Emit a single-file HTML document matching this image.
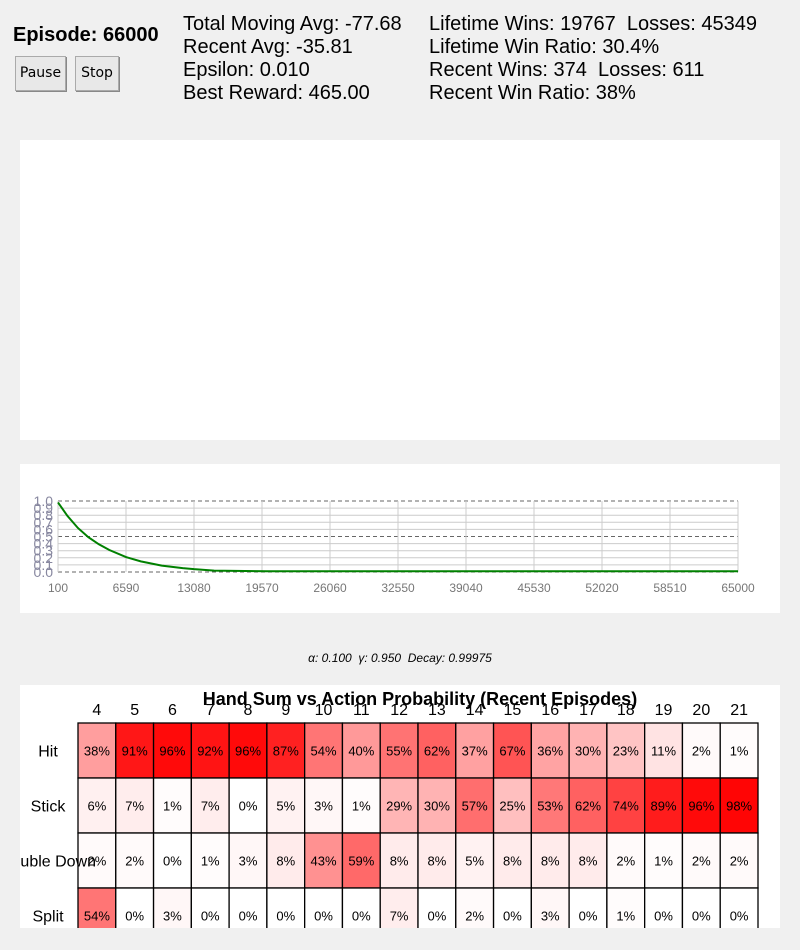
<!DOCTYPE html>
<html><head><meta charset="utf-8"><style>
body{margin:0;width:800px;height:950px;background:#f0f0f0;font-family:"Liberation Sans",sans-serif;position:relative;overflow:hidden}
svg text{font-family:"Liberation Sans",sans-serif}
.abs{position:absolute}
.st{position:absolute;font-size:20px;line-height:23px;color:#000;white-space:nowrap}
.btn{position:absolute;top:56px;height:33px;border:1px solid #aaa;background:#e8e8e8;box-shadow:1px 1px 0 #888;font-size:14px;line-height:33px;text-align:center;font-family:"DejaVu Sans",sans-serif}
</style></head><body>
<div class="abs" style="left:13px;top:24px;font-size:20px;font-weight:bold">Episode: 66000</div>
<div class="btn" style="left:15px;width:49px">Pause</div>
<div class="btn" style="left:75px;width:42px">Stop</div>
<div class="st" style="left:183px;top:13px">Total Moving Avg: -77.68<br>Recent Avg: -35.81<br>Epsilon: 0.010<br>Best Reward: 465.00</div>
<div class="st" style="left:429px;top:13px">Lifetime Wins: 19767&nbsp; Losses: 45349<br>Lifetime Win Ratio: 30.4%<br>Recent Wins: 374&nbsp; Losses: 611<br>Recent Win Ratio: 38%</div>
<div class="abs" style="left:20px;top:140px;width:760px;height:300px;background:#fff"></div>
<div class="abs" style="left:20px;top:464px;width:760px;height:149px;background:#fff"></div>
<svg class="abs" id="eps" style="left:0;top:0" width="800" height="950"></svg>
<div class="abs" style="left:0;width:800px;top:651px;text-align:center;font-size:12px;font-style:italic">α: 0.100&nbsp; γ: 0.950&nbsp; Decay: 0.99975</div>
<div class="abs" style="left:20px;top:685px;width:760px;height:243px;background:#fff;overflow:hidden">
<svg id="hm" width="760" height="243"></svg></div>
<script>
const epTicks=[100,6590,13080,19570,26060,32550,39040,45530,52020,58510,65000];
const epsX=[100,1000,2000,3000,4000,5000,6590,8000,10000,12000,13080,15000,20000,30000,40000,50000,65000];
const epsY=[0.98,0.79,0.62,0.49,0.39,0.31,0.21,0.15,0.09,0.055,0.04,0.02,0.01,0.01,0.01,0.01,0.01];
const NS='http://www.w3.org/2000/svg';
function mk(p,t,a){const e=document.createElementNS(NS,t);for(const k in a)e.setAttribute(k,a[k]);p.appendChild(e);return e;}
const s=document.getElementById('eps');
const x0=58,x1=738,yT=501,yB=572;
const xs=v=>x0+(v-100)/(65000-100)*(x1-x0);
const ys=v=>yB-v*(yB-yT);
for(let i=0;i<=10;i++){const v=i/10;const dash=(i==0||i==5||i==10);
const l=mk(s,'line',{x1:x0,x2:x1,y1:ys(v),y2:ys(v),stroke:dash?'#666':'#ccc','stroke-dasharray':dash?'4,3':'none'});
}
epTicks.forEach(v=>{const l=mk(s,'line',{x1:xs(v),x2:xs(v),y1:yT,y2:yB,stroke:'#ccc'});

const t=mk(s,'text',{x:xs(v),y:592,'text-anchor':'middle','font-size':12,fill:'#777'});t.textContent=v;
});
for(let i=0;i<=10;i++){const v=i/10;
const t=mk(s,'text',{x:53,y:ys(v)+5,'text-anchor':'end','font-size':14,fill:'#8888a0'});t.textContent=v.toFixed(1);
}
const ln=mk(s,'polyline',{points:epsX.map((v,i)=>xs(v)+','+ys(epsY[i])).join(' '),fill:'none',stroke:'#008000','stroke-width':2});


const sums=[4,5,6,7,8,9,10,11,12,13,14,15,16,17,18,19,20,21];
const actions=['Hit','Stick','Double Down','Split'];
const hit=[38,91,96,92,96,87,54,40,55,62,37,67,36,30,23,11,2,1];
const stick=[6,7,1,7,0,5,3,1,29,30,57,25,53,62,74,89,96,98];
const dbl=[2,2,0,1,3,8,43,59,8,8,5,8,8,8,2,1,2,2];
const split=[54,0,3,0,0,0,0,0,7,0,2,0,3,0,1,0,0,0];
const rows=[hit,stick,dbl,split];
const h=document.getElementById('hm');
const gx=58,cw=680/18,gy=38,rh=55;
sums.forEach((v,i)=>{const t=mk(h,'text',{x:gx+cw*(i+.5),y:30,'text-anchor':'middle','font-size':16});t.textContent=v;
});
rows.forEach((r,j)=>{
r.forEach((v,i)=>{const c=Math.round(255*(1-v/100));
const rc=mk(h,'rect',{x:gx+cw*i,y:gy+rh*j,width:cw,height:rh,fill:`rgb(255,${c},${c})`,stroke:'#000','stroke-width':1.3});

const tt=mk(h,'text',{x:gx+cw*(i+.5),y:gy+rh*(j+.5)+5,'text-anchor':'middle','font-size':13});tt.textContent=v+'%';
});});
rows.forEach((r,j)=>{const t=mk(h,'text',{x:28,y:gy+rh*(j+.5)+6,'text-anchor':'middle','font-size':16});t.textContent=actions[j];
});
const ti=mk(h,'text',{x:400,y:20,'text-anchor':'middle','font-size':18,'font-weight':'bold'});ti.textContent='Hand Sum vs Action Probability (Recent Episodes)';

</script>
</body></html>
